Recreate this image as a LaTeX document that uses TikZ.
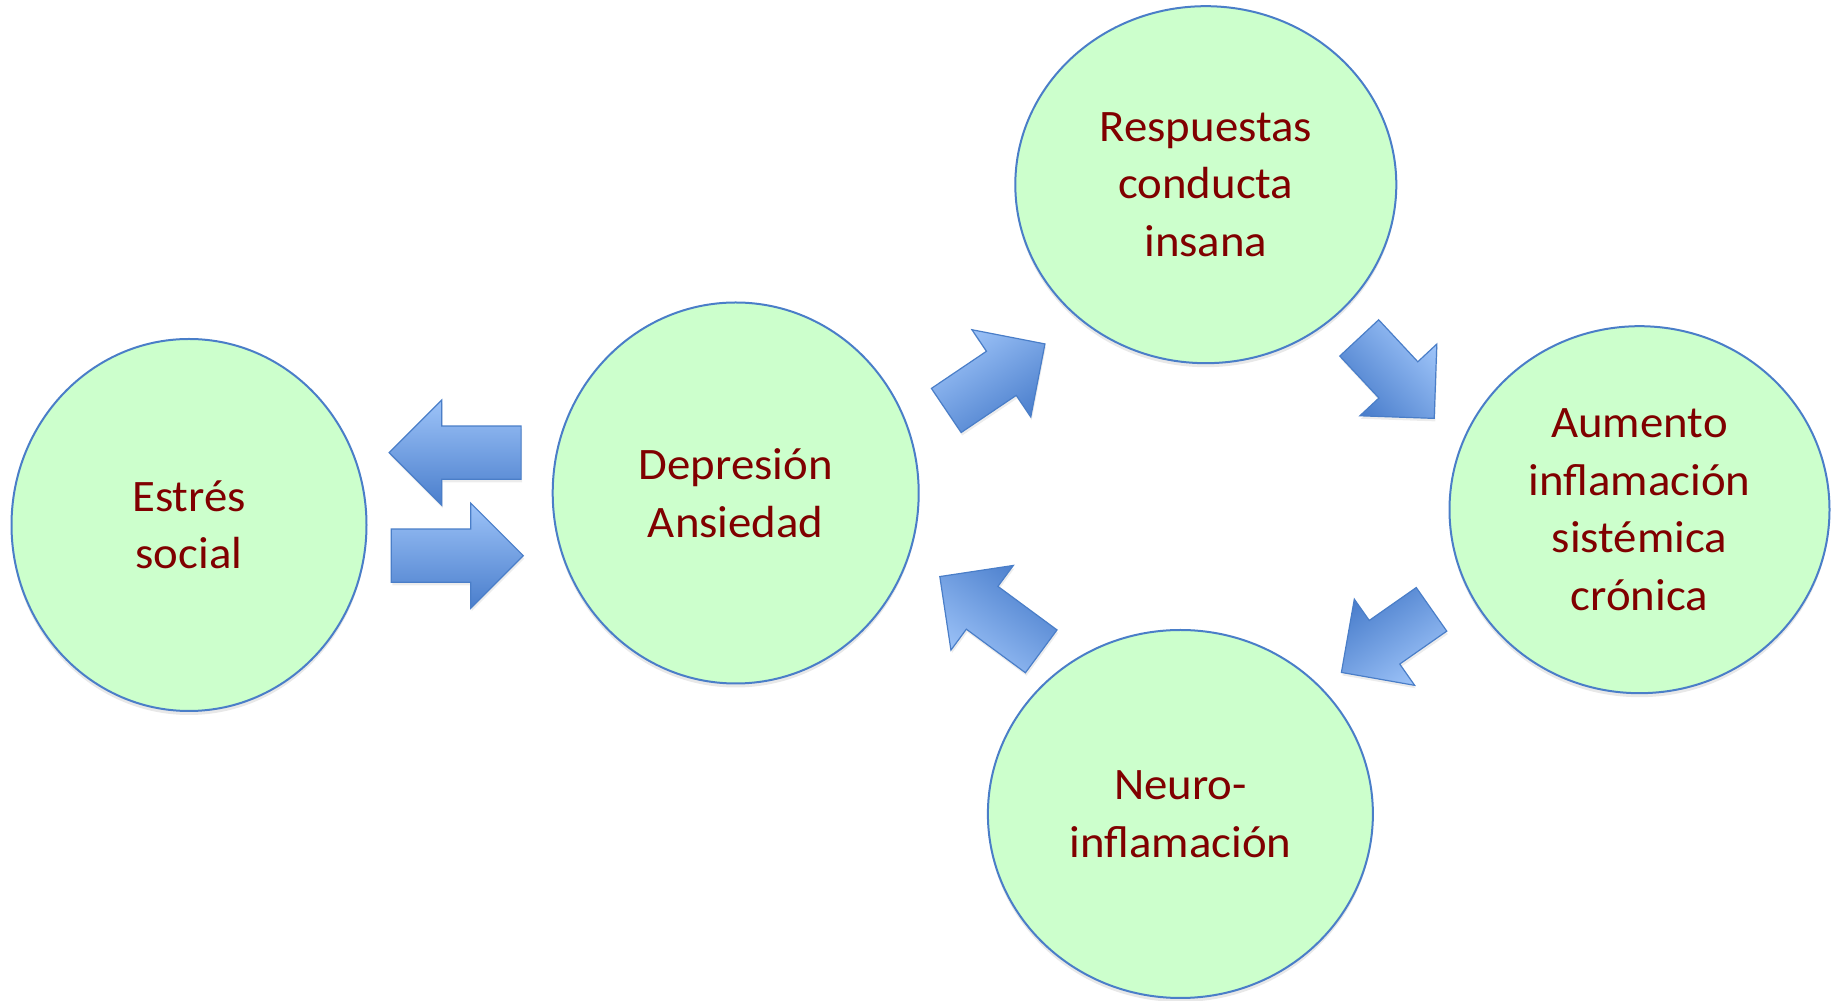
\documentclass[tikz,border=0pt]{standalone}
\usepackage{fontspec}
\setmainfont{Carlito}[FakeStretch=1.04]
\usepackage{tikz}
\usetikzlibrary{shapes.geometric, shapes.arrows, shadows}
\definecolor{bubblefill}{HTML}{CCFFCC}
\definecolor{bubbleline}{HTML}{4A7EC8}
\definecolor{bubbletext}{HTML}{800000}
\definecolor{arrowlight}{HTML}{9DC3F8}
\definecolor{arrowdark}{HTML}{4A7ECC}

\begin{document}
\begin{tikzpicture}[
  x=1pt, y=1pt,
  bubble/.style={ellipse, draw=bubbleline, line width=2pt, fill=bubblefill, inner sep=0pt,
    text=bubbletext, align=center, font=\fontsize{45}{57.5}\selectfont,
    drop shadow={shadow xshift=0pt, shadow yshift=-4pt, opacity=0.18}},
  blockarrow/.style={single arrow, draw=bubbleline, line width=1.2pt,
    top color=arrowlight, bottom color=arrowdark,
    minimum height=#1, single arrow head extend=26pt,
    inner xsep=0pt, inner ysep=26pt, anchor=tail,
    drop shadow={shadow xshift=1pt, shadow yshift=-3pt, opacity=0.15}},
  turned/.style={rotate=#1, shading angle=#1}
]
\useasboundingbox (0,0) rectangle (1837,1001);

% circles
\node[bubble, minimum width=355pt, minimum height=372pt] (estres) at (189,476) {Estrés\\social};
\node[bubble, minimum width=366pt, minimum height=381pt] (depres) at (735.7,508) {Depresión\\Ansiedad};
\node[bubble, minimum width=381pt, minimum height=357pt] (resp) at (1205.8,816.3) {Respuestas\\conducta\\insana};
\node[bubble, minimum width=380pt, minimum height=367pt] (aumento) at (1639.5,491.3) {Aumento\\inflamación\\sistémica\\crónica};
\node[bubble, minimum width=385pt, minimum height=368pt] (neuro) at (1180.4,187) {Neuro-\\inflamación};

% block arrows
\node[blockarrow=132pt, shape border rotate=180] (a1) at (521.7,548.3) {};
\node[blockarrow=132pt] (a2) at (390.7,445.3) {};
\node[blockarrow=119pt, turned=34] (a3) at (945.8,590.2) {};
\node[blockarrow=110pt, turned=-47] (a4) at (1358.8,663.5) {};
\node[blockarrow=110pt, turned=215] (a5) at (1432,392) {};
\node[blockarrow=126pt, turned=143.6] (a6) at (1041.7,349.3) {};
\end{tikzpicture}
\end{document}
